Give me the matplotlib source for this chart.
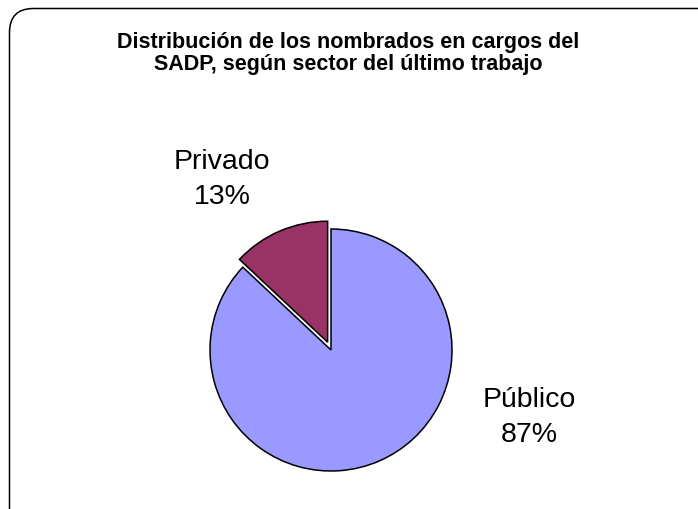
import matplotlib
matplotlib.use("Agg")
from matplotlib import pyplot as plt
from matplotlib.patches import FancyBboxPatch
from matplotlib.transforms import IdentityTransform

plt.rcParams['font.family'] = ['Liberation Sans', 'DejaVu Sans']

sectores = ['Público', 'Privado']
porcentajes = [87, 13]
colores = ['#9999FF', '#993366']
separacion = [0, 0.07]
titulo = 'Distribución de los nombrados en cargos del\nSADP, según sector del último trabajo'

W, H = 698, 509
fig = plt.figure(figsize=(W / 100, H / 100), dpi=100)

# marco redondeado (se sale por la derecha y abajo)
marco = FancyBboxPatch((9.5, -60), 760, H - 8.5 + 60, boxstyle="round,pad=0,rounding_size=24",
                       transform=IdentityTransform(), facecolor='none', edgecolor='black',
                       linewidth=1.1, zorder=-1)
fig.patches.append(marco)

fig.text(348 / W, 1 - 32 / H, titulo, ha='center', va='top', fontsize=15.5,
         fontweight='bold', linespacing=1.05)

# pie centrado en (331, 350) px, radio 121 px
R = 121
L = 1.2
S = 2 * L * R
cx, cy = 331, 350
ax = fig.add_axes([(cx - S / 2) / W, (H - cy - S / 2) / H, S / W, S / H])
ax.pie(porcentajes, colors=colores, explode=separacion, startangle=90, counterclock=False,
       wedgeprops=dict(edgecolor='black', linewidth=1.1), radius=1)
ax.set_xlim(-L, L)
ax.set_ylim(-L, L)
ax.set_aspect('equal')
ax.axis('off')

pos_etiquetas = [(1.64, -0.56), (-0.90, 1.41)]
for nombre, valor, (x, y) in zip(sectores, porcentajes, pos_etiquetas):
    ax.text(x, y, f'{nombre}\n{valor}%', ha='center', va='center', fontsize=20.5,
            linespacing=1.45)

fig.savefig('out.png', dpi=100)
